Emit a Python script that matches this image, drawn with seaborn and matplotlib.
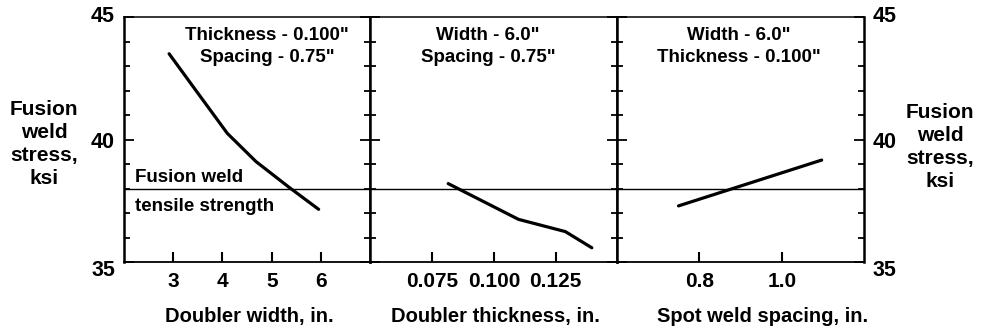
import matplotlib
matplotlib.use("Agg")
import matplotlib.pyplot as plt
import matplotlib.transforms as mtrans
import seaborn as sns
import pandas as pd
import numpy as np

# ---- data ----
width_in = [2.92, 3.5, 4.1, 4.68, 5.35, 5.95]
width_stress = [43.5, 41.9, 40.25, 39.1, 38.05, 37.15]

thick_in = [0.0815, 0.110, 0.129, 0.1397]
thick_stress = [38.2, 36.74, 36.24, 35.58]

spacing_in = [0.749, 1.097]
spacing_stress = [37.29, 39.16]

tensile_strength = 38.0

width_ticks = [3, 4, 5, 6]
width_ticklabels = ["3", "4", "5", "6"]
thick_ticks = [0.075, 0.100, 0.125]
thick_ticklabels = ["0.075", "0.100", "0.125"]
spacing_ticks = [0.8, 1.0]
spacing_ticklabels = ["0.8", "1.0"]
y_ticks = [35, 40, 45]
y_ticklabels = ["35", "40", "45"]

xlabels = ["Doubler width, in.", "Doubler thickness, in.", "Spot weld spacing, in."]
notes = ["Thickness - 0.100\"\nSpacing - 0.75\"",
         "Width - 6.0\"\nSpacing - 0.75\"",
         "Width - 6.0\"\nThickness - 0.100\""]
ylabel = "Fusion\nweld\nstress,\nksi"
line_label_top = "Fusion weld"
line_label_bottom = "tensile strength"

sns.set_style("ticks")
plt.rcParams['font.family'] = ['Liberation Sans', 'DejaVu Sans']
plt.rcParams['font.weight'] = 'bold'
for k in ["text.color", "axes.labelcolor", "xtick.color", "ytick.color", "axes.edgecolor"]:
    plt.rcParams[k] = "black"

FS_TICK = 15
FS_XLAB = 14.5
FS_YLAB = 15
FS_NOTE = 13.5

fig = plt.figure(figsize=(9.81, 3.30), dpi=100)
gs = fig.add_gridspec(1, 3, left=123.7/981, right=864/981, top=1-17/330,
                      bottom=1-262/330, wspace=0)
axes = [fig.add_subplot(gs[0, i]) for i in range(3)]

datasets = [(width_in, width_stress), (thick_in, thick_stress), (spacing_in, spacing_stress)]
xlims = [(2, 7), (0.05, 0.15), (0.6, 1.2)]
xticks = [(width_ticks, width_ticklabels), (thick_ticks, thick_ticklabels),
          (spacing_ticks, spacing_ticklabels)]
note_x = [0.58, 0.476, 0.494]
xlabel_x = [0.508, 0.505, 0.59]

for i, ax in enumerate(axes):
    xs, ys = datasets[i]
    df = pd.DataFrame({"x": xs, "y": ys})
    sns.lineplot(data=df, x="x", y="y", ax=ax, color="black", lw=2.3,
                 sort=False, estimator=None)
    ax.axhline(tensile_strength, color="black", lw=1.0)
    ax.set_xlim(*xlims[i])
    ax.set_ylim(35, 45)
    ax.set_xticks(xticks[i][0])
    ax.set_xticklabels(xticks[i][1], fontsize=FS_TICK, fontweight="bold")
    ax.tick_params(axis="x", direction="in", length=7, width=1.5, pad=7.5)
    ax.set_xlabel(xlabels[i], fontsize=FS_XLAB, fontweight="bold")
    ax.xaxis.set_label_coords(xlabel_x[i], -0.185)
    ax.set_ylabel("")
    ax.set_yticks(np.arange(35, 46, 1), minor=True)
    ax.set_yticks(y_ticks)
    for sp in ax.spines.values():
        sp.set_visible(True)
        sp.set_color("black")
    ax.spines["top"].set_linewidth(1.1)
    ax.spines["bottom"].set_linewidth(1.3)
    ax.spines["left"].set_linewidth(1.8)
    ax.spines["right"].set_linewidth(1.8)
    ax.text(note_x[i], 0.88, notes[i], transform=ax.transAxes, ha="center",
            va="center", fontsize=FS_NOTE, fontweight="bold", linespacing=1.37)
    ax.tick_params(axis="y", which="both", left=True, right=True, direction="in",
                   labelleft=False, labelright=False, width=1.3)
    ax.tick_params(axis="y", which="major", length=7.5)
    ax.tick_params(axis="y", which="minor", length=4)

# line labels
ax = axes[0]
ax.text(0.045, 38.26, line_label_top, transform=ax.get_yaxis_transform(),
        ha="left", va="baseline", fontsize=FS_NOTE, fontweight="bold")
ax.text(0.045, 37.10, line_label_bottom, transform=ax.get_yaxis_transform(),
        ha="left", va="baseline", fontsize=FS_NOTE, fontweight="bold")

# y tick labels left and right
axes[0].tick_params(axis="y", which="major", labelleft=True, pad=6.3)
axes[0].set_yticklabels(y_ticklabels, fontsize=FS_TICK + 0.5, fontweight="bold")
axes[2].tick_params(axis="y", which="major", labelright=True, pad=6.5)
axes[2].set_yticklabels(y_ticklabels, fontsize=FS_TICK + 0.5, fontweight="bold")

# small vertical offsets of end labels, as in the original
shifts = {"45": 3 / 72 * 0 + 3, "35": -6}
for ax in (axes[0], axes[2]):
    for t in ax.yaxis.get_major_ticks():
        for lab in (t.label1, t.label2):
            txt = lab.get_text()
            dy = shifts.get(txt, 0)
            if dy:
                lab.set_transform(lab.get_transform() +
                                  mtrans.ScaledTranslation(0, dy / 100, fig.dpi_scale_trans))

fig.text(44/981, 1-144/330, ylabel, ha="center", va="center", fontsize=FS_YLAB,
         fontweight="bold", linespacing=1.25)
fig.text(940/981, 1-147/330, ylabel, ha="center", va="center", fontsize=FS_YLAB,
         fontweight="bold", linespacing=1.25)

fig.savefig("out.png", dpi=100, facecolor="white")
